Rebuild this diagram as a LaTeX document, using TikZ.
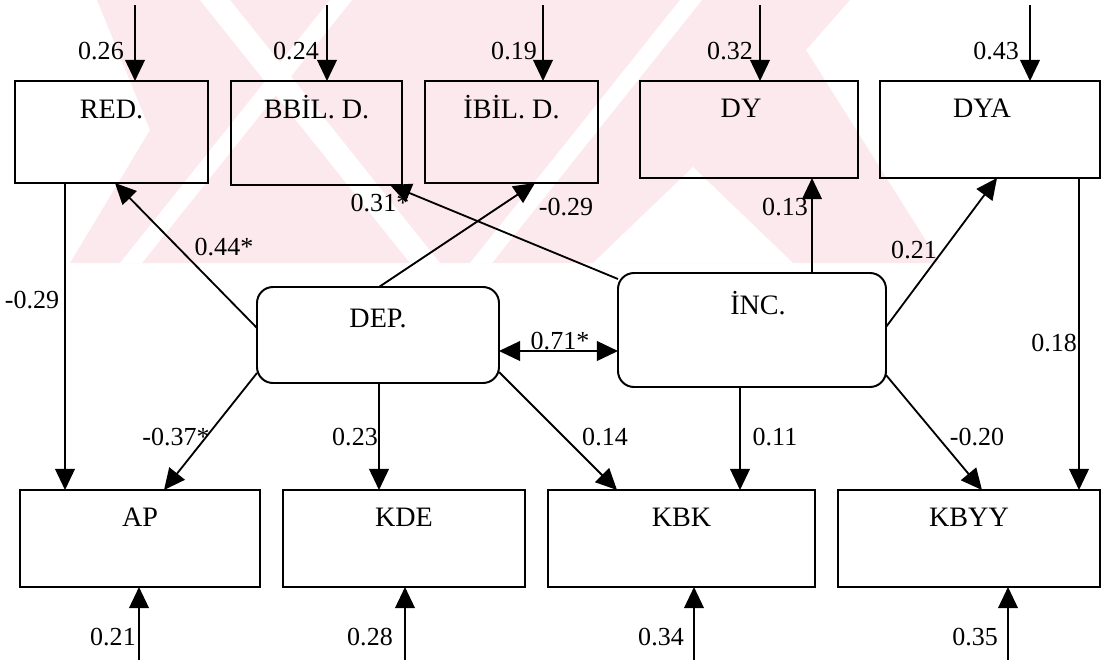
\documentclass[tikz,border=0pt]{standalone}
\usepackage{fontspec}
\setmainfont{Liberation Serif}
\usetikzlibrary{arrows.meta,calc}
\definecolor{wmpink}{RGB}{252,233,237}
\begin{document}
\begin{tikzpicture}[x=0.025cm,y=-0.025cm,
  rectbox/.style={draw, line width=1.4pt, inner sep=0pt, outer sep=0pt},
  roundbox/.style={rectbox, rounded corners=0.4cm},
  boxtext/.style={anchor=base, inner sep=0pt, font=\fontsize{20}{22}\selectfont},
  num/.style={inner sep=0pt, font=\fontsize{18.5}{20}\selectfont},
  arr/.style={line width=1.3pt, -{Triangle[length=15pt,width=14pt]}},
  darr/.style={line width=1.3pt, {Triangle[length=15pt,width=14pt]}-{Triangle[length=15pt,width=14pt]}}]
\useasboundingbox (0,0) rectangle (1104,660);
% watermark
\fill[wmpink] (97,0) -- (850,0) -- (806,50) -- (940,263) -- (70,263) -- (150,130) -- cycle;
\fill[white] (200,0) -- (230,0) -- (440,263) -- (410,263) -- cycle;
\fill[white] (593,263) -- (693,167) -- (793,263) -- cycle;
\fill[white] (120,263) -- (330,0) -- (352,0) -- (142,263) -- cycle;
\fill[white] (470,263) -- (680,0) -- (702,0) -- (492,263) -- cycle;
% boxes
\node[rectbox, minimum width={193*0.025cm}, minimum height={102*0.025cm}] (RED) at (111.5,132) {};
\node[rectbox, minimum width={171*0.025cm}, minimum height={104*0.025cm}] (BBIL) at (316.5,133) {};
\node[rectbox, minimum width={173*0.025cm}, minimum height={102*0.025cm}] (IBIL) at (511.5,132) {};
\node[rectbox, minimum width={218*0.025cm}, minimum height={97*0.025cm}] (DY) at (749,129.5) {};
\node[rectbox, minimum width={220*0.025cm}, minimum height={97*0.025cm}] (DYA) at (990,129.5) {};
\node[roundbox, minimum width={242*0.025cm}, minimum height={96*0.025cm}] (DEP) at (378,335) {};
\node[roundbox, minimum width={268*0.025cm}, minimum height={114*0.025cm}] (INC) at (752,330) {};
\node[rectbox, minimum width={240*0.025cm}, minimum height={97*0.025cm}] (AP) at (140,538.5) {};
\node[rectbox, minimum width={242*0.025cm}, minimum height={97*0.025cm}] (KDE) at (404,538.5) {};
\node[rectbox, minimum width={267*0.025cm}, minimum height={97*0.025cm}] (KBK) at (681.5,538.5) {};
\node[rectbox, minimum width={262*0.025cm}, minimum height={97*0.025cm}] (KBYY) at (969,538.5) {};
% box texts
\node[boxtext] (REDt) at ($(RED.north)+(0,37)$) {RED.};
\node[boxtext] (BBILt) at ($(BBIL.north)+(0,37)$) {BBİL. D.};
\node[boxtext] (IBILt) at ($(IBIL.north)+(0,37)$) {İBİL. D.};
\node[boxtext] (DYt) at ($(DY.north)+(-8,36)$) {DY};
\node[boxtext] (DYAt) at ($(DYA.north)+(-8,36)$) {DYA};
\node[boxtext] (DEPt) at ($(DEP.north)+(0,40)$) {DEP.};
\node[boxtext] (INCt) at ($(INC.north)+(6,41)$) {İNC.};
\node[boxtext] (APt) at ($(AP.north)+(0,36)$) {AP};
\node[boxtext] (KDEt) at ($(KDE.north)+(0,36)$) {KDE};
\node[boxtext] (KBKt) at ($(KBK.north)+(0,36)$) {KBK};
\node[boxtext] (KBYYt) at ($(KBYY.north)+(0,36)$) {KBYY};
% error terms
\coordinate (e1) at (135,5); \coordinate (e2) at (327,5); \coordinate (e3) at (543,5);
\coordinate (e4) at (760,5); \coordinate (e5) at (1030,5);
\coordinate (f1) at (139,660); \coordinate (f2) at (405,660); \coordinate (f3) at (694,660);
\coordinate (f4) at (1008,660);
\draw[arr] (e1) -- ($(RED.north west)+(120,0)$);
\draw[arr] (e2) -- ($(BBIL.north west)+(96,0)$);
\draw[arr] (e3) -- ($(IBIL.north west)+(118,0)$);
\draw[arr] (e4) -- ($(DY.north west)+(120,0)$);
\draw[arr] (e5) -- ($(DYA.north west)+(150,0)$);
\draw[arr] (f1) -- ($(AP.south west)+(119,0)$);
\draw[arr] (f2) -- ($(KDE.south west)+(122,0)$);
\draw[arr] (f3) -- ($(KBK.south west)+(146,0)$);
\draw[arr] (f4) -- ($(KBYY.south west)+(170,0)$);
\node[num] (n1) at (101,51) {0.26};
\node[num] (n2) at (296,51) {0.24};
\node[num] (n3) at (514,51) {0.19};
\node[num] (n4) at (730,51) {0.32};
\node[num] (n5) at (996,51) {0.43};
\node[num] (m1) at (113,637) {0.21};
\node[num] (m2) at (370,637) {0.28};
\node[num] (m3) at (661,637) {0.34};
\node[num] (m4) at (975,637) {0.35};
% structural paths
\draw[arr] ($(RED.south west)+(50,0)$) -- ($(AP.north west)+(45,0)$);
\draw[arr] ($(DEP.west)+(0,-7)$) -- ($(RED.south west)+(100,0)$);
\draw[arr] ($(DEP.north west)+(122,0)$) -- ($(IBIL.south west)+(110,0)$);
\draw[arr] ($(INC.north west)+(0,6)$) -- ($(BBIL.south west)+(159,0)$);
\draw[arr] ($(INC.north west)+(194,0)$) -- ($(DY.south west)+(172,0)$);
\draw[arr] ($(INC.east)+(0,-3)$) -- ($(DYA.south west)+(117,0)$);
\draw[arr] ($(DYA.south west)+(199,0)$) -- ($(KBYY.north west)+(241,0)$);
\draw[darr] ($(DEP.east)+(0,16)$) -- ($(INC.west)+(0,21)$);
\draw[arr] ($(DEP.west)+(0,38)$) -- ($(AP.north west)+(144,0)$);
\draw[arr] ($(DEP.south west)+(122,0)$) -- ($(KDE.north west)+(96,0)$);
\draw[arr] ($(DEP.east)+(0,37)$) -- ($(KBK.north west)+(69,0)$);
\draw[arr] ($(INC.south west)+(122,0)$) -- ($(KBK.north west)+(192,0)$);
\draw[arr] ($(INC.east)+(0,45)$) -- ($(KBYY.north west)+(144,0)$);
\node[num] (p1) at (32,300) {-0.29};
\node[num] (p2) at (224,247) {0.44*};
\node[num] (p3) at (566,207) {-0.29};
\node[num] (p4) at (380,203) {0.31*};
\node[num] (p5) at (785,207) {0.13};
\node[num] (p6) at (914,250) {0.21};
\node[num] (p7) at (1054,343) {0.18};
\node[num] (p8) at (560,341) {0.71*};
\node[num] (p9) at (176,437) {-0.37*};
\node[num] (p10) at (355,437) {0.23};
\node[num] (p11) at (605,437) {0.14};
\node[num] (p12) at (775,437) {0.11};
\node[num] (p13) at (977,437) {-0.20};
\end{tikzpicture}
\end{document}
